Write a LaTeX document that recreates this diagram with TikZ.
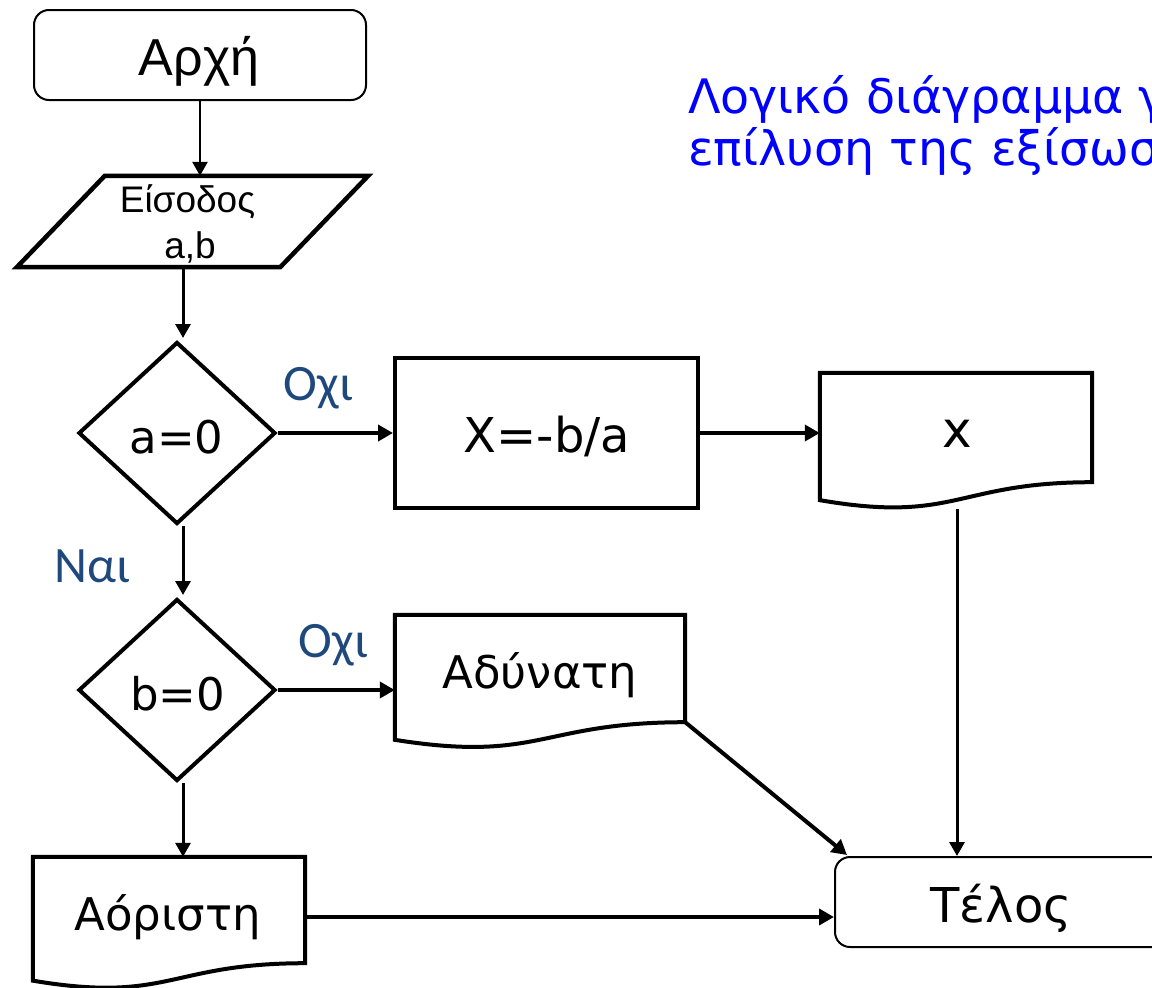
\documentclass[tikz,border=0pt]{standalone}
\usepackage{fontspec}
\setmainfont{DejaVu Sans}
\newfontfamily\arialfont{Liberation Sans}
\newfontfamily\calfont{Carlito}
\usetikzlibrary{calc,arrows.meta,shapes.geometric}

\definecolor{titleblue}{RGB}{0,0,255}
\definecolor{labelblue}{RGB}{31,73,125}

% outline of a "document" symbol around a node whose box is the straight part
\newcommand{\docframe}[2]{%
  \draw[docline] (#1.north west) -- (#1.north east) -- (#1.south east)
    .. controls (#1.south) and ($(#1.south)+(0,0.381*#2)$) ..
    ($(#1.south west)+(0,0.1646*#2)$) -- cycle;}

\begin{document}
\begin{tikzpicture}[x=1pt,y=-1pt,
  txt/.style={inner sep=0pt, anchor=base, font=\fontsize{#1}{#1}\selectfont},
  atxt/.style={inner sep=0pt, anchor=base, font=\arialfont\fontsize{#1}{#1}\selectfont},
  terminal/.style={draw, line width=2pt, rounded corners=15pt,
    minimum width=332pt, minimum height=90pt, inner sep=0pt},
  decision/.style={diamond, draw, line width=4pt, inner sep=0pt,
    minimum width=197pt, minimum height=182pt},
  process/.style={rectangle, draw, line width=4pt, inner sep=0pt},
  docbody/.style={rectangle, inner sep=0pt},
  docline/.style={line width=4pt, line join=miter},
  conn/.style={line width=3pt, -{Triangle[length=14pt,width=15pt]}},
  connthick/.style={line width=4pt, -{Triangle[length=15pt,width=16pt]}},
  answer/.style={text=labelblue, font=\calfont\fontsize{51}{51}\selectfont, inner sep=0pt, anchor=base},
  title/.style={text=titleblue, font=\fontsize{47.5}{52}\selectfont, inner sep=0pt, anchor=base west}]

\useasboundingbox (0,0) rectangle (1152,988);
\clip (0,0) rectangle (1152,988);

% terminals
\node[terminal] (start) at (200,55) {};
\node[atxt=52] (starttxt) at (199,75) {Αρχή};
\node[terminal] (telos) at (1001,902) {};
\node[txt=48] (telostxt) at (1001,922) {Τέλος};

% input parallelogram
\node[minimum width=263pt, minimum height=91pt, inner sep=0pt] (inp) at (192.5,221.5) {};
\draw[line width=4.5pt, line join=miter]
  ($(inp.north west)+(44,0)$) -- ($(inp.north east)+(44,0)$) --
  ($(inp.south east)+(-44,0)$) -- ($(inp.south west)+(-44,0)$) -- cycle;
\node[atxt=37] (inptxt1) at (187.5,212) {Είσοδος};
\node[atxt=37] (inptxt2) at (190,258) {a,b};

% decisions
\node[decision] (a0) at (177,433) {};
\node[txt=45] (a0txt) at (176.5,453) {a=0};
\node[decision] (b0) at (177,690) {};
\node[txt=45] (b0txt) at (177.5,710) {b=0};

% process
\node[process, minimum width=303pt, minimum height=150pt] (xb) at (546.5,433) {};
\node[txt=48] (xbtxt) at (547,452) {X=-b/a};

% document outputs
\node[docbody, minimum width=272pt, minimum height=109pt] (xo) at (956,427.5) {};
\docframe{xo}{109}
\node[txt=50] (xotxt) at (957,447) {x};
\node[docbody, minimum width=290pt, minimum height=107pt] (ad) at (540,668.5) {};
\docframe{ad}{107}
\node[txt=45] (adtxt) at (540,688) {Αδύνατη};
\node[docbody, minimum width=272pt, minimum height=106pt] (aor) at (169,910) {};
\docframe{aor}{106}
\node[txt=45] (aortxt) at (167.5,930) {Αόριστη};

% answer labels
\node[answer] (no1) at (318.5,400) {Οχι};
\node[answer] (no2) at (333.5,657) {Οχι};
\node[answer] (yes) at (92.5,582) {Ναι};

% title
\node[title] (t1) at (688,113) {Λογικό διάγραμμα για};
\node[title] (t2) at (688,165) {επίλυση της εξίσωσης};

% connectors
\coordinate (a0in) at ($(a0.north)+(6,-2)$);
\coordinate (a0out) at ($(a0.south)+(6,0)$);
\coordinate (b0in) at ($(b0.north)+(6,-2)$);
\coordinate (b0out) at ($(b0.south)+(6,0)$);
\coordinate (xoout) at ($(xo.south)+(1,27)$);
\coordinate (aorout) at ($(aor.east)+(0,7)$);
\coordinate (telosnw) at ($(telos.north west)+(13,-1)$);

\draw[conn, line width=2.6pt] (start.south) -- (start.south |- inp.north);
\draw[conn] (inp.south -| a0in) -- (a0in);
\draw[conn] (a0out) -- (b0in);
\draw[conn] (b0out) -- (b0out |- aor.north);
\draw[connthick] (a0.east) -- (xb.west);
\draw[connthick] (xb.east) -- (xb.east -| xo.west);
\draw[connthick] (b0.east) -- (b0.east -| ad.west);
\draw[connthick] (ad.south east) -- (telosnw);
\draw[conn] (xoout) -- (xoout |- telos.north);
\draw[connthick] (aorout) -- (aorout -| telos.west);

\end{tikzpicture}
\end{document}
